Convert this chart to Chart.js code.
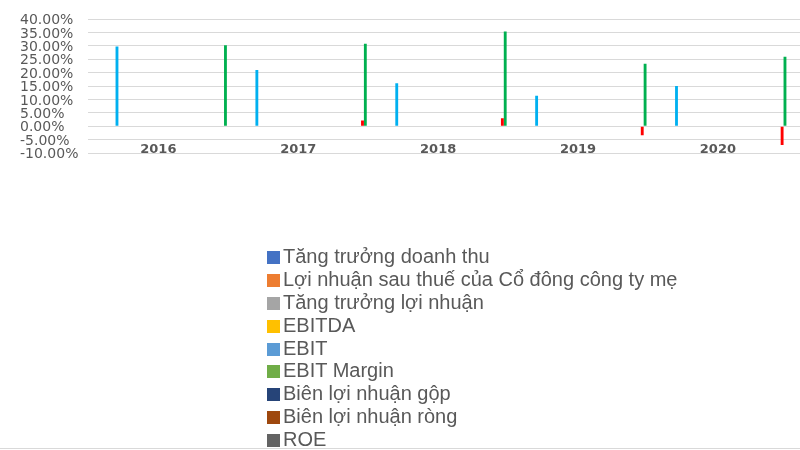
<!DOCTYPE html>
<html>
<head>
<meta charset="utf-8">
<script src="https://cdn.jsdelivr.net/npm/chart.js@4.4.1/dist/chart.umd.min.js"></script>
<style>
  html, body { margin: 0; padding: 0; background: #ffffff; }
  #wrap { position: relative; width: 800px; height: 450px; overflow: hidden; background: #fff; }
  #chart { position: absolute; left: 0; top: 0; }
  #legend { position: absolute; left: 267px; top: 245px; font-family: 'Liberation Sans', Arial, sans-serif; font-size: 20px; line-height: 22.9px; color: #595959; white-space: nowrap; }
  #legend .row { height: 22.9px; }
  #legend .box { display: inline-block; width: 13px; height: 13px; margin-right: 3px; position: relative; top: 1px; }
  #bottomLine { position: absolute; left: 0; top: 448px; width: 800px; height: 1px; background: #d9d9d9; }
</style>
</head>
<body>
<div id="wrap">
  <canvas id="chart" width="800" height="450"></canvas>
  <div id="legend"></div>
  <div id="bottomLine"></div>
</div>
<script>
// ---- data ----
const years = ['2016', '2017', '2018', '2019', '2020'];

const legendNames = [
  'Tăng trưởng doanh thu',
  'Lợi nhuận sau thuế của Cổ đông công ty mẹ',
  'Tăng trưởng lợi nhuận',
  'EBITDA',
  'EBIT',
  'EBIT Margin',
  'Biên lợi nhuận gộp',
  'Biên lợi nhuận ròng',
  'ROE'
];
const legendColors = ['#4472C4', '#ED7D31', '#A5A5A5', '#FFC000', '#5B9BD5', '#70AD47', '#264478', '#9E480E', '#636363'];

// visible series (percent values)
const cyanValues  = [29.7, 21.0, 16.0, 11.4, 15.0];
const redValues   = [null, 2.1, 3.0, -3.4, -7.0];
const greenValues = [30.2, 30.8, 35.3, 23.3, 25.9];

const yTickMin = -10;
const yTickMax = 40;
const yTickStep = 5;

// x axis range (years; the plot runs a little past the last category)
const xAxisMin = 2015.5;
const xAxisMax = 2020.587;

// series layout of the original workbook (total series and slots of the visible ones)
const seriesCount = 48;
const cyanSlot = 9;
const redSlot = 46;
const greenSlot = 47;

// ---- build datasets ----
const emptySeries = () => years.map(() => null);
const datasets = [];
for (let i = 0; i < seriesCount; i++) {
  datasets.push({ label: '', data: emptySeries(), backgroundColor: '#bfbfbf' });
}
legendNames.forEach((name, i) => {
  datasets[i].label = name;
  datasets[i].backgroundColor = legendColors[i];
});
datasets[cyanSlot].data = cyanValues;
datasets[cyanSlot].backgroundColor = '#00B0F0';
datasets[redSlot].data = redValues;
datasets[redSlot].backgroundColor = '#FF0000';
datasets[greenSlot].data = greenValues;
datasets[greenSlot].backgroundColor = '#00B050';

const htmlLegend = {
  id: 'htmlLegend',
  afterUpdate(chart) {
    const box = document.getElementById('legend');
    box.innerHTML = '';
    const items = chart.options.plugins.legend.labels.generateLabels(chart).filter(it => it.text);
    items.forEach(it => {
      const row = document.createElement('div');
      row.className = 'row';
      const sq = document.createElement('span');
      sq.className = 'box';
      sq.style.background = it.fillStyle;
      row.appendChild(sq);
      row.appendChild(document.createTextNode(it.text));
      box.appendChild(row);
    });
  }
};

new Chart(document.getElementById('chart'), {
  type: 'bar',
  data: { labels: years, datasets: datasets },
  plugins: [htmlLegend],
  options: {
    responsive: false,
    animation: false,
    devicePixelRatio: 1,
    categoryPercentage: seriesCount / (seriesCount + 1),
    barPercentage: 1,
    layout: { padding: { left: 20, top: 19, right: 0, bottom: 297 } },
    plugins: {
      legend: { display: false },
      tooltip: { enabled: false }
    },
    scales: {
      x: {
        type: 'linear',
        min: xAxisMin,
        max: xAxisMax,
        offset: false,
        position: { y: 0 },
        grid: { display: false, drawTicks: false },
        border: { display: false },
        ticks: {
          stepSize: 1,
          includeBounds: false,
          autoSkip: false,
          padding: 16,
          color: '#595959',
          font: { family: 'DejaVu Sans', size: 13, weight: 'bold' },
          maxRotation: 0,
          callback: v => String(v)
        }
      },
      y: {
        min: yTickMin,
        max: yTickMax,
        grid: { color: '#d9d9d9', lineWidth: 1, drawTicks: false },
        border: { display: false },
        ticks: {
          stepSize: yTickStep,
          autoSkip: false,
          crossAlign: 'far',
          padding: 5,
          labelOffset: 1.5,
          color: '#595959',
          font: { family: 'DejaVu Sans', size: 14 },
          callback: v => v.toFixed(2) + '%'
        }
      }
    }
  }
});
</script>
</body>
</html>
